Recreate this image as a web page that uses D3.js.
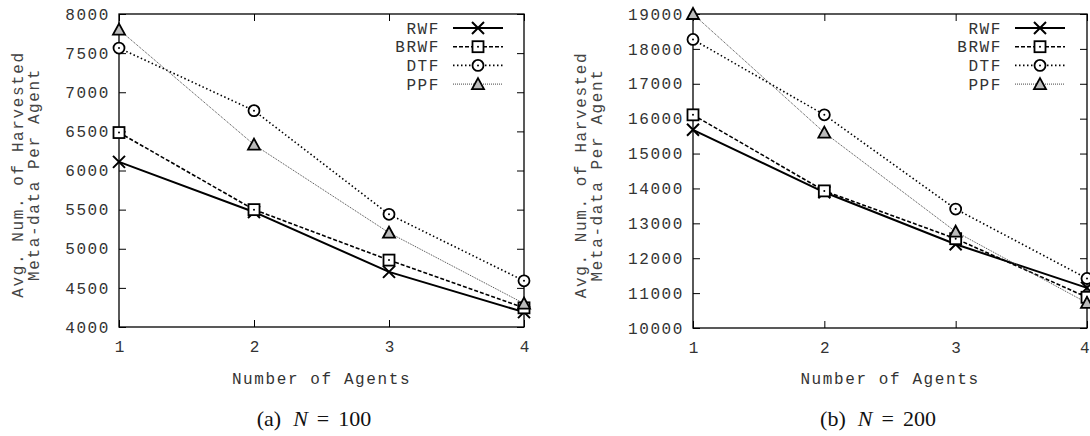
<!DOCTYPE html>
<html>
<head>
<meta charset="utf-8">
<script src="https://cdn.jsdelivr.net/npm/d3@7"></script>
<style>
  body { margin: 0; background: #fff; }
  svg { display: block; }
  .tick text { font-family: "Liberation Mono", monospace; font-size: 16px; letter-spacing: 1.6px; fill: #333; }
</style>
</head>
<body>
<svg id="canvas" width="1090" height="436"></svg>
<script>
// data
let agents = [1, 2, 3, 4]
let seriesNames = ['RWF', 'BRWF', 'DTF', 'PPF']

let rwf100 = [6110, 5470, 4705, 4190]
let brwf100 = [6485, 5500, 4855, 4245]
let dtf100 = [7565, 6765, 5440, 4590]
let ppf100 = [7800, 6330, 5205, 4300]

let rwf200 = [15680, 13890, 12400, 11150]
let brwf200 = [16110, 13930, 12560, 10880]
let dtf200 = [18270, 16110, 13410, 11420]
let ppf200 = [19000, 15600, 12760, 10720]

let yTicks100 = [4000, 4500, 5000, 5500, 6000, 6500, 7000, 7500, 8000]
let yTicks200 = [10000, 11000, 12000, 13000, 14000, 15000, 16000, 17000, 18000, 19000]

let styles = {
  RWF:  { dash: null,      width: 2,   color: '#000', marker: 'cross' },
  BRWF: { dash: '4,2',     width: 1.6, color: '#000', marker: 'square' },
  DTF:  { dash: '1.5,2.5', width: 1.6, color: '#000', marker: 'circle' },
  PPF:  { dash: '1,1',     width: 1,   color: '#444', marker: 'triangle' }
}

let canvas = d3.select('#canvas')
let mono = '"Liberation Mono", monospace'

let monoText = (sel) => sel.style('font-family', mono).style('font-size', '16px')
  .style('letter-spacing', '1.6px').style('fill', '#333')

let drawMarker = (g, type, cx, cy) => {
  if (type === 'cross') {
    g.append('path').attr('d', `M${cx-6},${cy-6}L${cx+6},${cy+6}M${cx-6},${cy+6}L${cx+6},${cy-6}`)
      .attr('stroke', '#000').attr('stroke-width', 2).attr('fill', 'none')
  } else if (type === 'square') {
    g.append('rect').attr('x', cx - 5.5).attr('y', cy - 5.5).attr('width', 11).attr('height', 11)
      .attr('stroke', '#000').attr('stroke-width', 1.8).attr('fill', '#fff')
    g.append('circle').attr('cx', cx).attr('cy', cy).attr('r', 1).attr('fill', '#000')
  } else if (type === 'circle') {
    g.append('circle').attr('cx', cx).attr('cy', cy).attr('r', 5.5)
      .attr('stroke', '#000').attr('stroke-width', 1.8).attr('fill', '#fff')
    g.append('circle').attr('cx', cx).attr('cy', cy).attr('r', 1).attr('fill', '#000')
  } else {
    g.append('path').attr('d', `M${cx},${cy-6}L${cx+6},${cy+5}L${cx-6},${cy+5}Z`)
      .attr('stroke', '#000').attr('stroke-width', 1.8).attr('fill', '#bbb')
  }
}

let drawChart = (opt) => {
  let g = canvas.append('g')
  let x = d3.scaleLinear().domain([1, 4]).range([opt.left, opt.right])
  let y = d3.scaleLinear().domain([opt.ticks[0], opt.ticks[opt.ticks.length - 1]]).range([opt.bottom, opt.top])

  // inward ticks on all four sides, like gnuplot
  g.append('g').attr('transform', `translate(${opt.left},0)`)
    .call(d3.axisLeft(y).tickValues(opt.ticks).tickSize(-7).tickPadding(9).tickFormat(d3.format('d')))
  g.append('g').attr('transform', `translate(${opt.right},0)`)
    .call(d3.axisRight(y).tickValues(opt.ticks).tickSize(-7).tickFormat(''))
  let bx = g.append('g').attr('transform', `translate(0,${opt.bottom})`)
    .call(d3.axisBottom(x).tickValues(agents).tickSize(-7).tickPadding(14).tickFormat(d3.format('d')))
  bx.selectAll('.tick text').attr('dx', 0.8)
  if (opt.lastTickShift) bx.selectAll('.tick:last-of-type text').attr('dx', opt.lastTickShift)
  g.append('g').attr('transform', `translate(0,${opt.top})`)
    .call(d3.axisTop(x).tickValues(agents).tickSize(-7).tickFormat(''))
  g.selectAll('.domain').remove()
  g.selectAll('.tick line').attr('stroke', '#000')

  g.append('rect').attr('x', opt.left).attr('y', opt.top)
    .attr('width', opt.right - opt.left).attr('height', opt.bottom - opt.top)
    .attr('fill', 'none').attr('stroke', '#000').attr('stroke-width', 1.3)

  let line = d3.line().x((d, i) => x(agents[i])).y(d => y(d))

  opt.series.forEach((vals, k) => {
    let s = styles[seriesNames[k]]
    g.append('path').datum(vals).attr('d', line)
      .attr('fill', 'none').attr('stroke', s.color).attr('stroke-width', s.width)
      .attr('stroke-dasharray', s.dash)
  })
  opt.series.forEach((vals, k) => {
    let s = styles[seriesNames[k]]
    vals.forEach((v, i) => drawMarker(g, s.marker, x(agents[i]), y(v)))
  })

  // legend
  seriesNames.forEach((name, k) => {
    let s = styles[name]
    let ly = opt.top + 14 + k * 18.7
    g.append('text').attr('x', opt.legendX).attr('y', ly).attr('dy', '0.35em')
      .attr('text-anchor', 'end').call(monoText).text(name)
    g.append('line').attr('x1', opt.legendX + 13).attr('x2', opt.legendX + 63)
      .attr('y1', ly).attr('y2', ly)
      .attr('stroke', s.color).attr('stroke-width', s.width).attr('stroke-dasharray', s.dash)
    drawMarker(g, s.marker, opt.legendX + 38, ly)
  })

  // y label, two lines
  let cy = (opt.top + opt.bottom) / 2 + 4
  let ylab = g.append('text')
    .attr('transform', `translate(${opt.yLabelX},${cy}) rotate(-90)`)
    .attr('text-anchor', 'middle').call(monoText).style('fill', '#444')
  ylab.append('tspan').attr('x', 0).attr('y', 0).text('Avg. Num. of Harvested')
  ylab.append('tspan').attr('x', 0).attr('y', 16).text('Meta-data Per Agent')

  // x label
  g.append('text').attr('x', (opt.left + opt.right) / 2).attr('y', 384)
    .attr('text-anchor', 'middle').call(monoText).text('Number of Agents')

  // caption
  let cap = g.append('text').attr('x', opt.captionX).attr('y', 426)
    .attr('text-anchor', 'middle')
    .style('font-family', '"Liberation Serif", serif').style('font-size', '22px').style('fill', '#111')
  cap.append('tspan').text(opt.captionTag)
  cap.append('tspan').attr('dx', 12).style('font-style', 'italic').text('N')
  cap.append('tspan').attr('dx', 9).text('=')
  cap.append('tspan').attr('dx', 9).text(opt.captionN)
}

drawChart({
  left: 119, right: 524, top: 14, bottom: 327,
  ticks: yTicks100, series: [rwf100, brwf100, dtf100, ppf100],
  legendX: 440, yLabelX: 23, captionX: 314, captionTag: '(a)', captionN: '100'
})
drawChart({
  left: 693, right: 1087, top: 14, bottom: 328,
  ticks: yTicks200, series: [rwf200, brwf200, dtf200, ppf200],
  legendX: 1002, yLabelX: 586, captionX: 878, captionTag: '(b)', captionN: '200',
  lastTickShift: -2
})
</script>
</body>
</html>
